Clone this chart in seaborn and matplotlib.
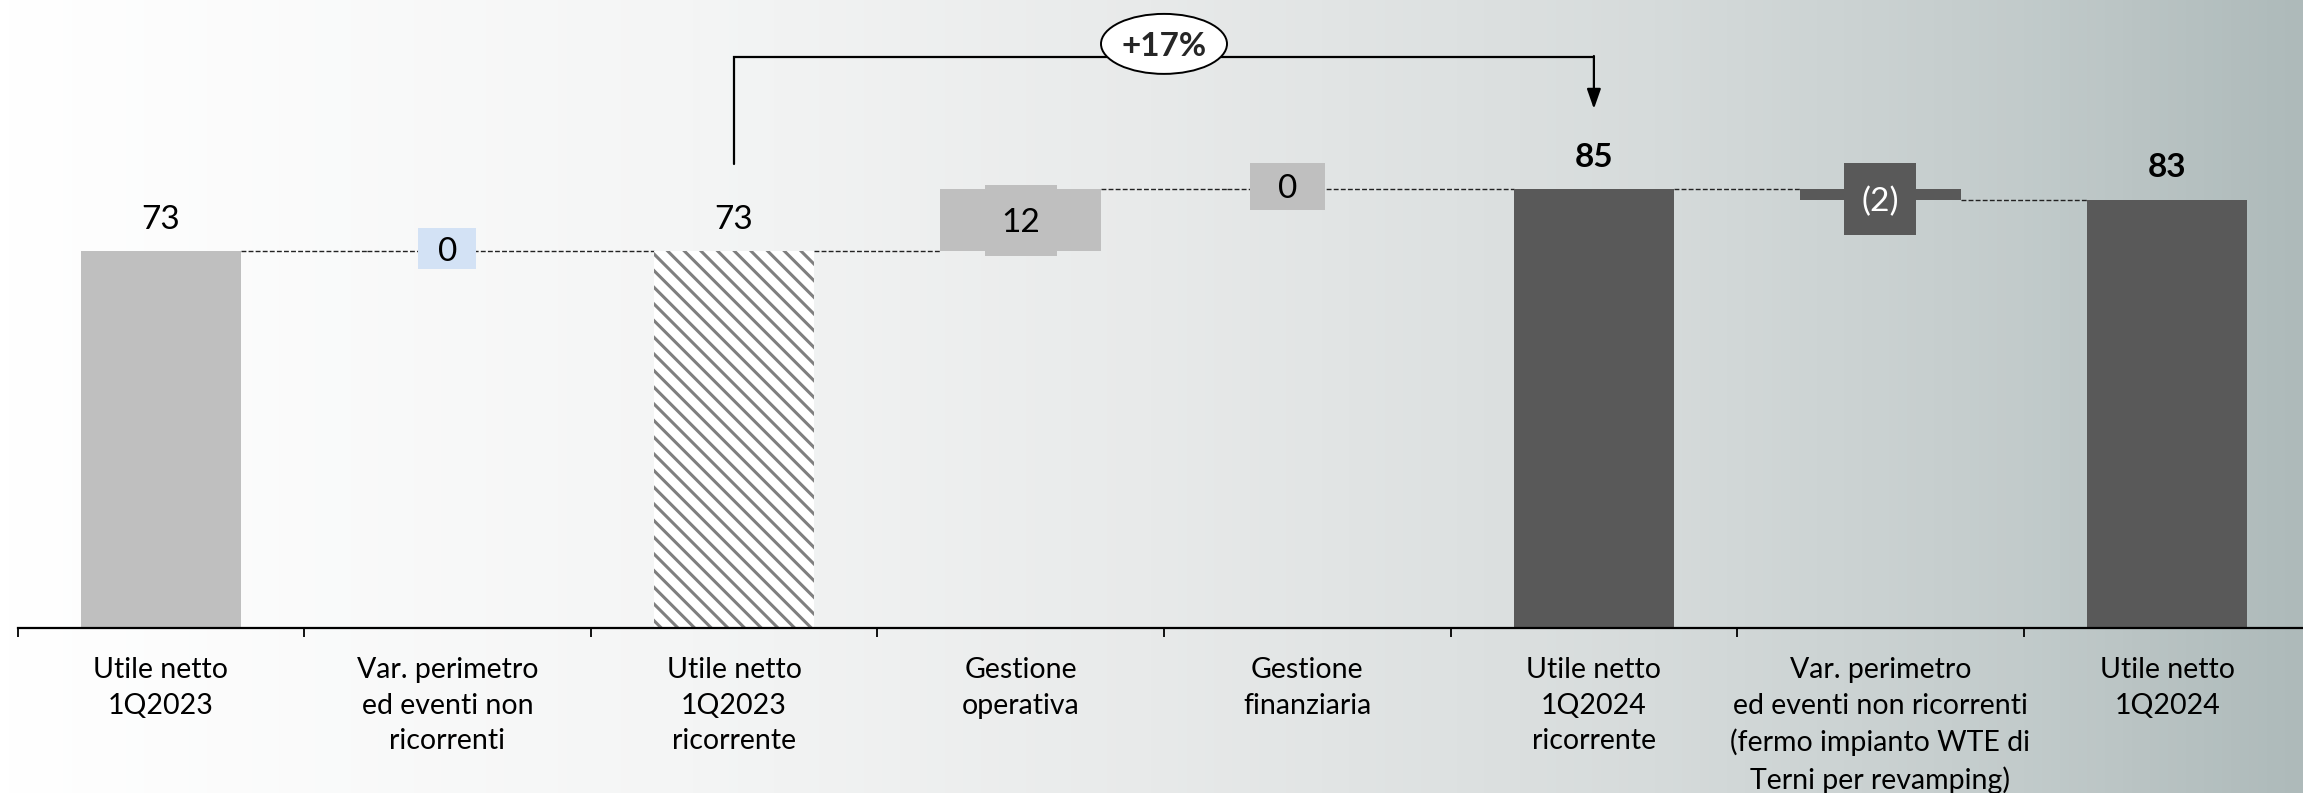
import numpy as np
import pandas as pd
import matplotlib
matplotlib.use("Agg")
import matplotlib.pyplot as plt
import seaborn as sns
from matplotlib.patches import Ellipse, Rectangle
from matplotlib.colors import LinearSegmentedColormap

# ---------------- data ----------------
categories = [
    "Utile netto\n1Q2023",
    "Var. perimetro\ned eventi non\nricorrenti",
    "Utile netto\n1Q2023\nricorrente",
    "Gestione\noperativa",
    "Gestione\nfinanziaria",
    "Utile netto\n1Q2024\nricorrente",
    "Var. perimetro\ned eventi non ricorrenti\n(fermo impianto WTE di\nTerni per revamping)",
    "Utile netto\n1Q2024",
]
values = [73, 0, 73, 12, 0, 85, -2, 83]
kinds = ["total", "delta", "total", "delta", "delta", "total", "delta", "total"]
value_labels = ["73", "0", "73", "12", "0", "85", "(2)", "83"]
growth_label = "+17%"

# ---------------- styles ----------------
bar_colors = ["#bfbfbf", "#d3e2f5", "#ffffff", "#bfbfbf", "#bfbfbf", "#595959", "#595959", "#595959"]
label_text_colors = ["black", "black", "black", "black", "black", "black", "white", "black"]
label_bold = [False, False, False, False, False, True, False, True]
BAR_W = 0.56
PX_X = 286.6   # px per category
PX_Y = 5.16    # px per unit
box_px = {1: (58, 41), 3: (72, 71), 4: (75, 47), 6: (72, 72)}
box_shift = {1: (0, 0.5), 3: (0, 0), 4: (-0.07, 0.6), 6: (0, -0.9)}

sns.set_theme(style="white")
plt.rcParams["font.family"] = ["Lato", "DejaVu Sans"]
plt.rcParams["hatch.linewidth"] = 2.2

W, H = 2303, 793
fig = plt.figure(figsize=(W / 100, H / 100), dpi=100)

# background gradient
bg = fig.add_axes([0, 0, 1, 1], zorder=-10)
cmap = LinearSegmentedColormap.from_list(
    "bg", [(0, "#ffffff"), (0.3, "#f4f5f5"), (0.5, "#e8eaea"), (0.72, "#d6dbdb"), (0.88, "#c2cbcb"), (1.0, "#aebaba")])
grad = np.tile(np.linspace(0, 1, 512), (32, 1))
bg.imshow(grad, aspect="auto", cmap=cmap, extent=[0, 1, 0, 1])
bg.axis("off")

left = 17.6 / W
ax = fig.add_axes([left, (H - 628) / H, 8 * PX_X / W, 628 / H])
ax.patch.set_alpha(0)

n = len(values)
xpos = np.arange(n)

# waterfall geometry
bottoms, heights, levels = [], [], []
level = 0
for v, k in zip(values, kinds):
    if k == "total":
        bottoms.append(0)
        heights.append(v)
        level = v
    else:
        bottoms.append(level)
        heights.append(v)
        level = level + v
    levels.append(level)

df = pd.DataFrame({
    "categoria": categories,
    "totale": [h if k == "total" else 0 for h, k in zip(heights, kinds)],
})
sns.barplot(data=df, x="categoria", y="totale", order=categories, color="#bfbfbf",
            width=BAR_W, ax=ax, saturation=1, zorder=2)
for i, p in enumerate(ax.patches):
    p.set_facecolor(bar_colors[i])
    p.set_linewidth(0)
    p.set_edgecolor("none")
    if i == 2:
        p.set_facecolor("white")
        p.set_edgecolor("#7f7f7f")
        p.set_hatch("\\\\")
        p.set_linewidth(0)

# floating delta bars
for i in range(n):
    if kinds[i] == "delta" and heights[i] != 0:
        ax.bar(xpos[i], heights[i], bottom=bottoms[i], width=BAR_W,
               color=bar_colors[i], linewidth=0, zorder=2)

# dashed connectors
hw = BAR_W / 2
for i in range(n - 1):
    visible = heights[i] != 0
    x0 = xpos[i] + hw if visible else xpos[i] - hw
    x1 = xpos[i + 1] - hw
    ax.plot([x0, x1], [levels[i], levels[i]], color="#222222", lw=1.0,
            ls=(0, (3.5, 1.6)), zorder=1)

# labels
for i in range(n):
    if kinds[i] == "total":
        ax.annotate(value_labels[i], (xpos[i], heights[i]), xytext=(0, 16),
                    textcoords="offset points", ha="center", va="baseline",
                    fontsize=24, fontweight="bold" if label_bold[i] else "normal",
                    color=label_text_colors[i], zorder=5)
    else:
        cy = bottoms[i] + heights[i] / 2 + box_shift[i][1]
        cx = xpos[i] + box_shift[i][0]
        bw, bh = box_px[i]
        ax.add_patch(Rectangle((cx - bw / PX_X / 2, cy - bh / PX_Y / 2), bw / PX_X, bh / PX_Y,
                               facecolor=bar_colors[i], edgecolor="none", zorder=3))
        ax.text(cx, cy, value_labels[i], ha="center", va="center_baseline",
                fontsize=24, color=label_text_colors[i], zorder=4)

# growth bracket
y_start, y_top, y_tip = 89.9, 110.7, 100.6
ax.plot([xpos[2], xpos[2], xpos[5]], [y_start, y_top, y_top], color="black", lw=1.6,
        solid_joinstyle="miter", zorder=4)
ax.annotate("", xy=(xpos[5], y_tip), xytext=(xpos[5], y_top + 0.15),
            arrowprops=dict(arrowstyle="-|>,head_length=1.0,head_width=0.35", color="black", lw=1.6,
                            shrinkA=0, shrinkB=0), zorder=4)
mid = (xpos[2] + xpos[5]) / 2
ax.add_patch(Ellipse((mid, 113.2), 126 / PX_X, 60 / PX_Y, facecolor="white",
                     edgecolor="black", lw=1.4, zorder=5))
ax.text(mid, 113.2, growth_label, ha="center", va="center_baseline", fontsize=24,
        fontweight="bold", zorder=6)

# axes
ax.set_xlim(-0.5, n - 0.5)
ax.set_ylim(0, 628 / PX_Y)
for s in ["top", "right", "left"]:
    ax.spines[s].set_visible(False)
ax.spines["bottom"].set_color("black")
ax.spines["bottom"].set_linewidth(1.6)
ax.set_yticks([])
ax.set_xticks(xpos)
ax.set_xticklabels(categories, fontsize=20.5, linespacing=1.45, va="top")
ax.set_xticks(np.arange(-0.5, n, 1.0), minor=True)
ax.tick_params(axis="x", which="major", bottom=True, length=0, pad=21, colors="black")
ax.tick_params(axis="x", which="minor", bottom=True, length=6.5, width=1.3, direction="out", color="black")
ax.set_xlabel("")
ax.set_ylabel("")

fig.savefig("out.png", dpi=100)
